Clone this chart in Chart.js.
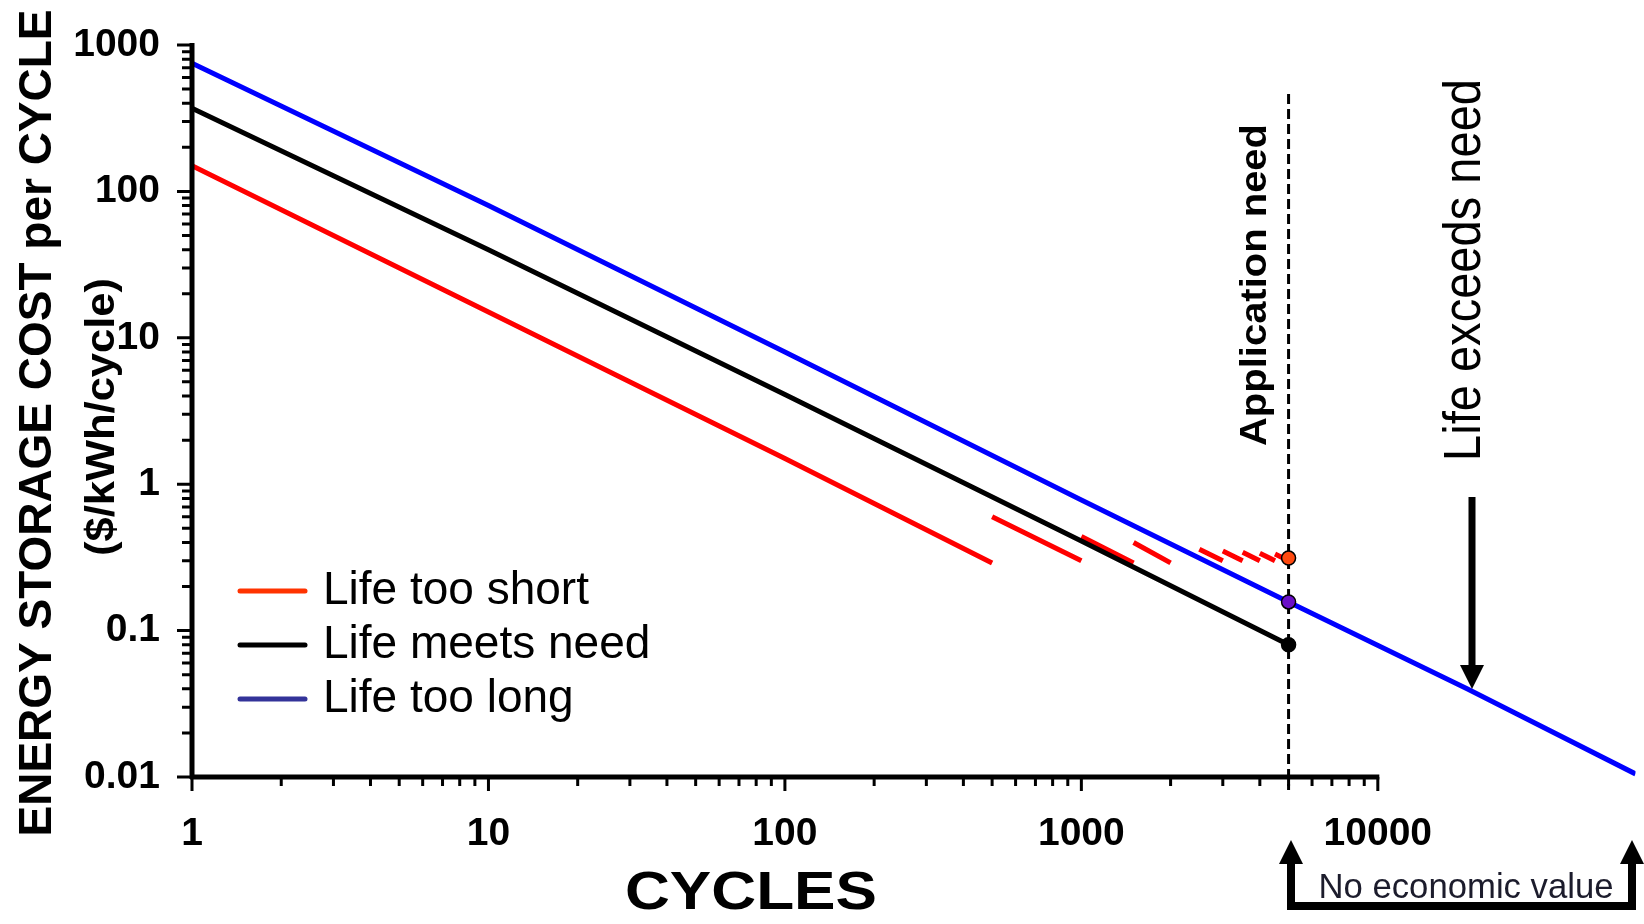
<!DOCTYPE html>
<html>
<head>
<meta charset="utf-8">
<script src="https://cdn.jsdelivr.net/npm/chart.js@4/dist/chart.umd.min.js"></script>
<style>
  html, body { margin: 0; padding: 0; background: #fff; }
  #wrap { width: 1644px; height: 924px; }
</style>
</head>
<body>
<div id="wrap"><canvas id="chart" width="1644" height="924"></canvas></div>
<script>
const FONT = "'Liberation Sans', Arial, Helvetica, sans-serif";

// axis ticks
const xTickValues = [1, 10, 100, 1000, 10000];
const xTickLabels = ['1', '10', '100', '1000', '10000'];
const yTickValues = [0.01, 0.1, 1, 10, 100, 1000];
const yTickLabels = ['0.01', '0.1', '1', '10', '100', '1000'];

// Life too short: null cost splits the replacement segments
const shortCycles = [1, 10, 100, 500, 500, 500, 1000, 1000, 1000, 1500, 1500, 1500, 2000, 2000, 2500, 3000, 3000, 3000, 3500, 3500, 3500, 4000, 4000, 4000, 4500, 4500, 4500, 5000];
const shortCost   = [150, 15, 1.5, 0.29, null, 0.6, 0.3, null, 0.44, 0.29, null, 0.4, 0.29, null, 0.36, 0.3, null, 0.35, 0.3, null, 0.343, 0.3, null, 0.338, 0.3, null, 0.333, 0.3];

// Life meets need
const meetsCycles = [1, 10, 100, 1000, 5000];
const meetsCost   = [370, 40, 4.1, 0.41, 0.08];

// Life too long
const longCycles = [1, 10, 100, 1000, 5000, 20000, 74000];
const longCost   = [750, 80, 8, 0.78, 0.157, 0.04, 0.0105];

// points where each curve meets the application need
const needCycles = 5000;
const markerCost = [0.313, 0.157, 0.08];
const markerColors = ['#ff4a10', '#6a0fc8', '#000000'];

const seriesLabels = ['Life too short', 'Life meets need', 'Life too long'];
const legendColors = ['#ff3300', '#000000', '#333399'];

// where the plot box sits in the picture
const target = { left: 192, top: 45, right: 1639, bottom: 777 };

function pts(xs, ys) {
    return xs.map((x, i) => ({ x: x, y: ys[i] }));
}

// text squeezed or stretched to a measured length
function fitText(ctx, text, x, y, font, len, rot) {
    ctx.save();
    ctx.translate(x, y);
    if (rot) ctx.rotate(rot);
    ctx.font = font;
    ctx.textAlign = 'center';
    ctx.textBaseline = 'alphabetic';
    const w = ctx.measureText(text).width;
    ctx.scale(len / w, 1);
    ctx.fillText(text, 0, 0);
    ctx.restore();
}

const decor = {
    id: 'decor',
    beforeDatasetsDraw(chart) {
        const ctx = chart.ctx;
        const px = chart.scales.x.getPixelForValue(needCycles);
        // application need line
        ctx.save();
        ctx.strokeStyle = '#000';
        ctx.lineWidth = 3;
        ctx.setLineDash([10, 5]);
        ctx.beginPath();
        ctx.moveTo(px, 94);
        ctx.lineTo(px, 790);
        ctx.stroke();
        ctx.restore();
    },
    afterDraw(chart) {
        const ctx = chart.ctx;
        const xs = chart.scales.x;
        const ys = chart.scales.y;
        const area = chart.chartArea;
        ctx.save();
        ctx.fillStyle = '#000';
        ctx.strokeStyle = '#000';

        // axis lines
        const xEnd = xs.getPixelForValue(10000);
        ctx.lineWidth = 5;
        ctx.beginPath();
        ctx.moveTo(area.left, area.top - 2);
        ctx.lineTo(area.left, area.bottom + 2);
        ctx.moveTo(area.left - 2, area.bottom);
        ctx.lineTo(xEnd + 1.5, area.bottom);
        ctx.stroke();

        // tick marks, major and minor
        ctx.lineWidth = 3;
        ctx.beginPath();
        for (let k = -2; k <= 3; k++) {
            const y = ys.getPixelForValue(Math.pow(10, k));
            ctx.moveTo(area.left - 15, y);
            ctx.lineTo(area.left, y);
            if (k < 3) {
                for (let m = 2; m <= 9; m++) {
                    const ym = ys.getPixelForValue(m * Math.pow(10, k));
                    ctx.moveTo(area.left - 10, ym);
                    ctx.lineTo(area.left, ym);
                }
            }
        }
        for (let k = 0; k <= 4; k++) {
            const x = xs.getPixelForValue(Math.pow(10, k));
            ctx.moveTo(x, area.bottom);
            ctx.lineTo(x, area.bottom + 14);
            if (k < 4) {
                for (let m = 2; m <= 9; m++) {
                    const xm = xs.getPixelForValue(m * Math.pow(10, k));
                    ctx.moveTo(xm, area.bottom);
                    ctx.lineTo(xm, area.bottom + 9);
                }
            }
        }
        ctx.stroke();

        // axis titles
        fitText(ctx, 'ENERGY STORAGE COST per CYCLE', 51, 423, 'bold 47px ' + FONT, 827, -Math.PI / 2);
        fitText(ctx, '($/kWh/cycle)', 114, 417, 'bold 40px ' + FONT, 278, -Math.PI / 2);
        fitText(ctx, 'CYCLES', 751, 909, 'bold 54px ' + FONT, 252, 0);

        // annotations
        fitText(ctx, 'Application need', 1266, 285, 'bold 37px ' + FONT, 322, -Math.PI / 2);
        fitText(ctx, 'Life exceeds need', 1480, 270, '51px ' + FONT, 382, -Math.PI / 2);
        ctx.fillStyle = '#1c1c2c';
        fitText(ctx, 'No economic value', 1466, 898, '35px ' + FONT, 295, 0);
        ctx.fillStyle = '#000';

        // arrow to the blue line
        ctx.lineWidth = 7;
        ctx.beginPath();
        ctx.moveTo(1472, 497);
        ctx.lineTo(1472, 668);
        ctx.stroke();
        ctx.beginPath();
        ctx.moveTo(1460, 665);
        ctx.lineTo(1484, 665);
        ctx.lineTo(1472, 689);
        ctx.closePath();
        ctx.fill();

        // bracket under the x axis
        ctx.lineWidth = 8;
        ctx.lineJoin = 'miter';
        ctx.beginPath();
        ctx.moveTo(1291, 862);
        ctx.lineTo(1291, 906);
        ctx.lineTo(1632, 906);
        ctx.lineTo(1632, 862);
        ctx.stroke();
        [1291, 1632].forEach(ax => {
            ctx.beginPath();
            ctx.moveTo(ax - 12, 864);
            ctx.lineTo(ax + 12, 864);
            ctx.lineTo(ax, 840);
            ctx.closePath();
            ctx.fill();
        });

        // legend
        const legendY = [591, 645, 699];
        ctx.lineCap = 'round';
        ctx.font = '46px ' + FONT;
        ctx.textAlign = 'left';
        ctx.textBaseline = 'alphabetic';
        legendY.forEach((y, i) => {
            ctx.strokeStyle = legendColors[i];
            ctx.lineWidth = 5;
            ctx.beginPath();
            ctx.moveTo(240, y);
            ctx.lineTo(305, y);
            ctx.stroke();
            ctx.fillStyle = '#000';
            ctx.fillText(chart.data.datasets[i].label, 323, y + 13);
        });
        ctx.restore();
    }
};

const ctx = document.getElementById('chart').getContext('2d');
const chart = new Chart(ctx, {
    type: 'line',
    data: {
        datasets: [
            {
                label: seriesLabels[0],
                data: pts(shortCycles, shortCost),
                borderColor: '#ff0000',
                borderWidth: 5,
                pointRadius: 0,
                spanGaps: false,
                order: 2
            },
            {
                label: seriesLabels[1],
                data: pts(meetsCycles, meetsCost),
                borderColor: '#000000',
                borderWidth: 5,
                pointRadius: 0,
                order: 1
            },
            {
                label: seriesLabels[2],
                data: pts(longCycles, longCost),
                borderColor: '#0000ff',
                borderWidth: 5,
                pointRadius: 0,
                order: 0
            },
            {
                label: 'Need points',
                data: markerCost.map(v => ({ x: needCycles, y: v })),
                showLine: false,
                pointRadius: 7,
                pointStyle: 'circle',
                pointBackgroundColor: markerColors,
                pointBorderColor: '#000',
                pointBorderWidth: 1.5,
                order: -1
            }
        ]
    },
    options: {
        responsive: false,
        animation: false,
        layout: { padding: { left: 0, right: 5, top: 45, bottom: 0 } },
        plugins: {
            legend: { display: false },
            tooltip: { enabled: false }
        },
        scales: {
            x: {
                type: 'logarithmic',
                min: 1,
                max: 74000,
                // tick marks are drawn by the decor plugin; tickLength only spaces the labels
                grid: { display: false, drawTicks: true, tickLength: 32 },
                border: { display: false },
                afterBuildTicks: s => { s.ticks = xTickValues.map(v => ({ value: v })); },
                afterFit: s => { s.height = 147; },
                ticks: {
                    autoSkip: false,
                    maxRotation: 0,
                    padding: 2,
                    color: '#000',
                    font: { family: FONT, size: 39, weight: 'bold', lineHeight: 1.2 },
                    callback: (v, i) => xTickLabels[i]
                }
            },
            y: {
                type: 'logarithmic',
                min: 0.01,
                max: 1000,
                grid: { display: false, drawTicks: true, tickLength: 30 },
                border: { display: false },
                afterBuildTicks: s => { s.ticks = yTickValues.map(v => ({ value: v })); },
                afterFit: s => { s.width = 192; },
                ticks: {
                    autoSkip: false,
                    padding: 2,
                    color: '#000',
                    font: { family: FONT, size: 39, weight: 'bold' },
                    callback: (v, i) => yTickLabels[i]
                }
            }
        }
    },
    plugins: [decor]
});

// nudge the layout padding until the plot box lands where the picture has it
for (let pass = 0; pass < 3; pass++) {
    const a = chart.chartArea;
    const old = chart.config.options.layout.padding;
    chart.config.options.layout.padding = {
        left: old.left,
        top: Math.max(0, old.top + target.top - a.top),
        right: Math.max(0, old.right + a.right - target.right),
        bottom: Math.max(0, old.bottom + a.bottom - target.bottom)
    };
    chart.update();
}
</script>
</body>
</html>
